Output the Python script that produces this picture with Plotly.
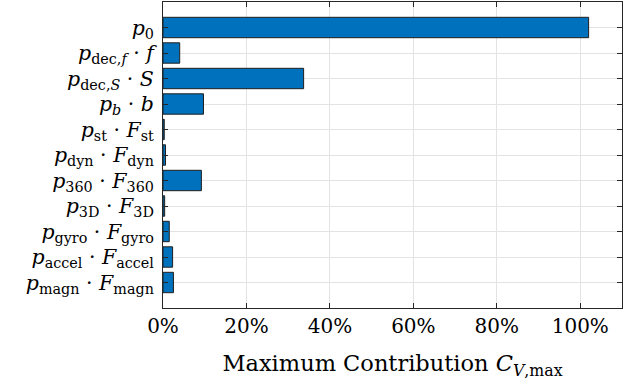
import plotly.graph_objects as go

# Contribution terms (top to bottom) and their maximum contribution (fraction)
terms = [
    "<i>p</i><sub>0</sub>",
    "<i>p</i><sub>dec,<i>f</i></sub> · <i>f</i>",
    "<i>p</i><sub>dec,<i>S</i></sub> · <i>S</i>",
    "<i>p<sub>b</sub></i> · <i>b</i>",
    "<i>p</i><sub>st</sub> · <i>F</i><sub>st</sub>",
    "<i>p</i><sub>dyn</sub> · <i>F</i><sub>dyn</sub>",
    "<i>p</i><sub>360</sub> · <i>F</i><sub>360</sub>",
    "<i>p</i><sub>3D</sub> · <i>F</i><sub>3D</sub>",
    "<i>p</i><sub>gyro</sub> · <i>F</i><sub>gyro</sub>",
    "<i>p</i><sub>accel</sub> · <i>F</i><sub>accel</sub>",
    "<i>p</i><sub>magn</sub> · <i>F</i><sub>magn</sub>",
]
contribution = [1.02, 0.040, 0.337, 0.097, 0.003, 0.006, 0.092, 0.004, 0.015, 0.023, 0.025]

x_ticks = [0, 0.2, 0.4, 0.6, 0.8, 1.0]

FONT = "DejaVu Serif, Liberation Serif, serif"
AXIS_COLOR = "#262626"
GRID_COLOR = "#e3e3e3"

fig = go.Figure(
    go.Bar(
        x=contribution,
        y=terms,
        orientation="h",
        width=0.8,
        marker=dict(color="#0072BD", line=dict(color="#1f1f1f", width=1)),
    )
)

fig.update_layout(
    width=642,
    height=387,
    margin=dict(l=163, r=20, t=2, b=79),
    plot_bgcolor="white",
    paper_bgcolor="white",
    showlegend=False,
    font=dict(family=FONT, size=20, color="black"),
)

fig.update_xaxes(
    range=[0, 1.1],
    tickvals=x_ticks,
    tickformat=".0%",
    ticks="inside",
    ticklen=5,
    tickcolor=AXIS_COLOR,
    showline=True,
    linecolor=AXIS_COLOR,
    linewidth=1,
    mirror="allticks",
    showgrid=True,
    gridcolor=GRID_COLOR,
    zeroline=False,
    tickfont=dict(family=FONT, size=20),
    title=dict(
        text="Maximum Contribution <i>C</i><sub><i>V</i>,max</sub>",
        font=dict(family=FONT, size=22.5),
        standoff=18,
    ),
)

# every term gets its own label (no automatic thinning)
fig.update_yaxes(
    type="category",
    categoryorder="array",
    categoryarray=terms,
    tickmode="array",
    tickvals=terms,
    ticktext=terms,
    range=[11, -1],
    ticks="inside",
    ticklen=5,
    tickcolor=AXIS_COLOR,
    showline=True,
    linecolor=AXIS_COLOR,
    linewidth=1,
    mirror="allticks",
    showgrid=True,
    gridcolor=GRID_COLOR,
    tickfont=dict(family=FONT, size=20.5),
    ticklabelstandoff=4,
)

fig.write_html("out.html")
